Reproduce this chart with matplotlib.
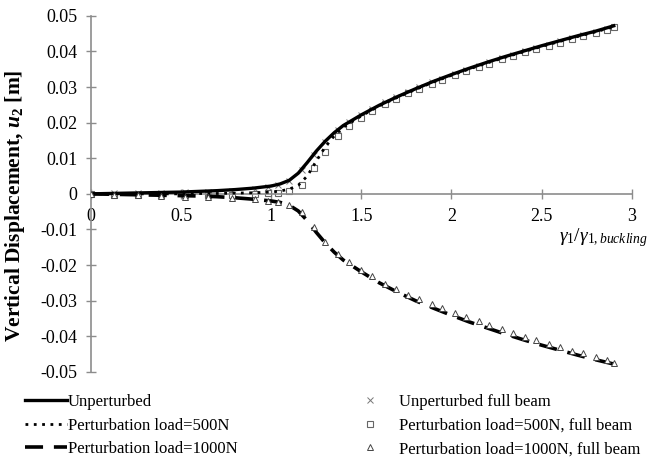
import matplotlib
matplotlib.use("Agg")
from matplotlib import pyplot as plt

plt.rcParams['font.family'] = ['Liberation Serif', 'DejaVu Serif']
plt.rcParams['mathtext.fontset'] = 'custom'
plt.rcParams['mathtext.rm'] = 'Liberation Serif'
plt.rcParams['mathtext.it'] = 'Liberation Serif:italic'
plt.rcParams['mathtext.bf'] = 'Liberation Serif:bold'
plt.rcParams['mathtext.bfit'] = 'Liberation Serif:bold:italic'

# analysis curves (lines)
lx = [0, 0.1, 0.2, 0.3, 0.4, 0.5, 0.6, 0.7, 0.8, 0.9, 1.0,
      1.05, 1.1, 1.15, 1.2, 1.25, 1.3, 1.35, 1.4,
      1.5, 1.6, 1.7, 1.8, 1.9, 2.0, 2.1, 2.2, 2.3, 2.4, 2.5, 2.6, 2.7, 2.8, 2.9]
unpert = [0, 0.0001, 0.0002, 0.0003, 0.0004, 0.0005, 0.0007, 0.0009, 0.0012, 0.0016, 0.0022,
          0.0028, 0.0038, 0.0058, 0.0088, 0.0120, 0.0148, 0.0172, 0.0192,
          0.0222, 0.0249, 0.0273, 0.0295, 0.0316, 0.0335, 0.0353, 0.0370, 0.0386, 0.0401,
          0.0416, 0.0430, 0.0444, 0.0457, 0.0472]
pert500 = [0, 0, 0, 0, 0, 0, 0.0001, 0.0001, 0.0002, 0.0003, 0.0005,
           0.0008, 0.0013, 0.0024, 0.0050, 0.0092, 0.0132, 0.0163, 0.0187,
           0.0219, 0.0247, 0.0271, 0.0293, 0.0314, 0.0333, 0.0351, 0.0368, 0.0384, 0.0399,
           0.0414, 0.0428, 0.0442, 0.0455, 0.0470]
pert1000 = [0, -0.0001, -0.0002, -0.0003, -0.0004, -0.0005, -0.0006, -0.0008, -0.0011, -0.0015, -0.0020,
            -0.0024, -0.0032, -0.0048, -0.0075, -0.0108, -0.0138, -0.0164, -0.0186,
            -0.0219, -0.0250, -0.0276, -0.0300, -0.0321, -0.0341, -0.0360, -0.0377, -0.0394, -0.0410,
            -0.0425, -0.0439, -0.0453, -0.0466, -0.0478]

# full beam results (markers)
mx = [0, 0.13, 0.26, 0.39, 0.52, 0.65, 0.78, 0.91, 0.98, 1.04, 1.1, 1.17, 1.24, 1.3,
      1.37, 1.43, 1.5, 1.56, 1.63, 1.69, 1.76, 1.82, 1.89, 1.95,
      2.02, 2.08, 2.15, 2.21, 2.28, 2.34, 2.41, 2.47, 2.54, 2.6,
      2.67, 2.73, 2.8, 2.86, 2.9]
unpert_fb = [0, 0.0001, 0.0002, 0.0003, 0.0005, 0.0006, 0.0009, 0.0014, 0.0019, 0.0026, 0.0036,
             0.0066, 0.0110, 0.0146, 0.0180, 0.0201, 0.0222, 0.0239, 0.0257, 0.0271, 0.0287,
             0.0299, 0.0313, 0.0324, 0.0337, 0.0348, 0.0359, 0.0369, 0.0381, 0.0390, 0.0401,
             0.0410, 0.0419, 0.0428, 0.0437, 0.0445, 0.0454, 0.0462, 0.0470]
pert500_fb = [0, -0.0002, -0.0003, -0.0003, -0.0003, -0.0003, -0.0002, 0, 0.0001, 0.0003, 0.0009,
              0.0025, 0.0073, 0.0118, 0.0163, 0.0190, 0.0214, 0.0232, 0.0251, 0.0266, 0.0282,
              0.0295, 0.0309, 0.0320, 0.0333, 0.0345, 0.0356, 0.0366, 0.0378, 0.0387, 0.0398,
              0.0407, 0.0416, 0.0425, 0.0434, 0.0442, 0.0451, 0.0459, 0.0468]
pert1000_fb = [0, -0.0002, -0.0004, -0.0006, -0.0008, -0.0009, -0.0011, -0.0015, -0.0019, -0.0024, -0.0031,
               -0.0052, -0.0092, -0.0135, -0.0168, -0.0192, -0.0214, -0.0232, -0.0252, -0.0266, -0.0283,
               -0.0295, -0.0310, -0.0321, -0.0335, -0.0346, -0.0358, -0.0368, -0.0380, -0.0390, -0.0401,
               -0.0411, -0.0421, -0.0430, -0.0440, -0.0448, -0.0458, -0.0466, -0.0474]

xticks = [0, 0.5, 1, 1.5, 2, 2.5, 3]
yticks = [-0.05, -0.04, -0.03, -0.02, -0.01, 0, 0.01, 0.02, 0.03, 0.04, 0.05]

fig = plt.figure(figsize=(6.54, 4.66), dpi=100)
ax = fig.add_axes([0.139, 0.202, 0.827, 0.764])

grey = '#8c8c8c'
l1, = ax.plot(lx, unpert, color='black', lw=2.4, label='Unperturbed', zorder=3)
l2, = ax.plot(lx, pert500, color='black', lw=2, ls=(0, (1, 2)), label='Perturbation load=500N', zorder=3)
l3, = ax.plot(lx, pert1000, color='black', lw=2.6, ls=(0, (5, 3)), label='Perturbation load=1000N', zorder=3)
m1, = ax.plot(mx, unpert_fb, ls='none', marker='x', ms=4, mew=0.7, color='#777777',
              label='Unperturbed full beam', zorder=2)
m2, = ax.plot(mx, pert500_fb, ls='none', marker='s', ms=5, mew=0.8, mfc='white', mec='#666666',
              label='Perturbation load=500N, full beam', zorder=2)
m3, = ax.plot(mx, pert1000_fb, ls='none', marker='^', ms=5, mew=0.7, mfc='white', mec='#444444',
              label='Perturbation load=1000N, full beam', zorder=4)

ax.set_xlim(0, 3)
ax.set_ylim(-0.05, 0.05)
ax.set_xticks(xticks)
ax.set_xticklabels(['0', '0.5', '1', '1.5', '2', '2.5', '3'])
ax.set_yticks(yticks)
ax.set_yticklabels(['-0.05', '-0.04', '-0.03', '-0.02', '-0.01', '0',
                    '0.01', '0.02', '0.03', '0.04', '0.05'])

ax.spines['top'].set_visible(False)
ax.spines['right'].set_visible(False)
ax.spines['bottom'].set_position(('data', 0))
for s in ['left', 'bottom']:
    ax.spines[s].set_color(grey)
    ax.spines[s].set_linewidth(1.2)
ax.tick_params(direction='inout', length=7, width=1, color=grey, labelsize=13, pad=6)
ax.tick_params(axis='x', pad=7)

ax.set_ylabel(r'Vertical Displacement, $\mathbfit{u}_\mathbf{2}$ [m]', fontsize=15.5,
              fontweight='bold')
ax.yaxis.set_label_coords(-0.118, 0.466)
ax.text(1.03, 0.41, r'$\gamma_1/\gamma_{1,buckling}$', transform=ax.transAxes,
        ha='right', va='top', fontsize=14)

leg1 = fig.legend(handles=[l1, l2, l3], loc='upper left', bbox_to_anchor=(0.026, 0.172),
                  frameon=False, fontsize=12, handlelength=2.5, handletextpad=0.05,
                  labelspacing=0.45, borderpad=0)
leg2 = fig.legend(handles=[m1, m2, m3], loc='upper left', bbox_to_anchor=(0.528, 0.172),
                  frameon=False, fontsize=12, handlelength=2, handletextpad=0.72,
                  labelspacing=0.45, borderpad=0)

plt.savefig('out.png', dpi=100)
